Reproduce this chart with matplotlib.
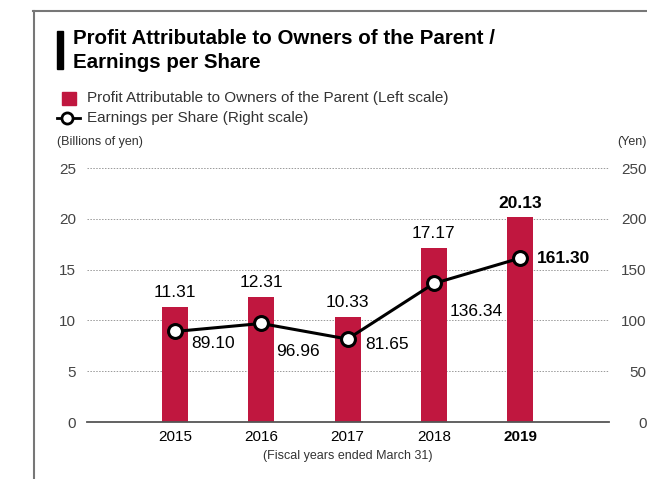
import matplotlib
matplotlib.use("Agg")
import matplotlib.pyplot as plt
from matplotlib.lines import Line2D
from matplotlib.patches import Rectangle

plt.rcParams['font.family'] = ['Liberation Sans', 'DejaVu Sans']

years = ["2015", "2016", "2017", "2018", "2019"]
profit = [11.31, 12.31, 10.33, 17.17, 20.13]   # billions of yen
eps = [89.10, 96.96, 81.65, 136.34, 161.30]    # yen
# label offsets for the EPS values, in points
eps_offsets = [(12, -9), (11, -20), (13, -4), (11, -20), (12, 0)]

RED = '#c0173f'
W, H = 647, 479

fig = plt.figure(figsize=(W / 100, H / 100), dpi=100)
ax = fig.add_axes([87 / W, 57 / H, 522 / W, 254 / H])
ax2 = ax.twinx()

x = list(range(len(years)))
ax.bar(x, profit, width=0.30, color=RED, zorder=2)
for i, v in enumerate(profit):
    last = i == len(profit) - 1
    ax.annotate(f"{v:.2f}", (i, v), xytext=(0, 5), textcoords='offset points',
                ha='center', va='bottom', fontsize=12.5,
                fontweight='bold' if last else 'normal')

ax2.plot(x, eps, color='black', lw=2.2, marker='o', ms=10, mfc='white',
         mec='black', mew=2.2, zorder=3)
for i, v in enumerate(eps):
    last = i == len(eps) - 1
    dx, dy = eps_offsets[i]
    ax2.annotate(f"{v:.2f}", (i, v), xytext=(dx, dy), textcoords='offset points',
                 ha='left', va='center', fontsize=12.5,
                 fontweight='bold' if last else 'normal')

ax.set_xlim(-1.02, 5.03)
ax.set_ylim(0, 25)
ax2.set_ylim(0, 250)
ax.set_yticks(range(0, 26, 5))
ax2.set_yticks(range(0, 251, 50))
ax.yaxis.grid(True, ls=(0, (1.5, 1.5)), color='#999999', lw=0.7)
ax.set_axisbelow(True)
ax.set_zorder(1)
ax2.set_zorder(2)

ax.set_xticks(x)
ax.set_xticklabels(years, fontsize=11)
ax.get_xticklabels()[-1].set_fontweight('bold')
ax.tick_params(axis='x', length=0, pad=6)
ax.tick_params(axis='y', length=0, pad=8, labelsize=11, labelcolor='#444444')
ax2.tick_params(axis='y', length=0, pad=27, labelsize=11, labelcolor='#444444')
for lab in ax2.get_yticklabels():
    lab.set_ha('right')

for a in (ax, ax2):
    for s in ('top', 'left', 'right', 'bottom'):
        a.spines[s].set_visible(False)
ax.spines['bottom'].set_visible(True)
ax.spines['bottom'].set_color('#555555')
ax.spines['bottom'].set_linewidth(1.3)

ax.set_xlabel("(Fiscal years ended March 31)", fontsize=9, color='#333333',
              labelpad=4)

# page frame
fig.add_artist(Line2D([33 / W, 1], [1 - 10.5 / H, 1 - 10.5 / H], color='#777777', lw=1.5))
fig.add_artist(Line2D([34 / W, 34 / W], [0, 1 - 10.5 / H], color='#777777', lw=1.5))

# title with its marker bar
fig.add_artist(Rectangle((57 / W, 1 - 69 / H), 6 / W, 38 / H, color='black',
                         transform=fig.transFigure))
fig.text(73 / W, 1 - 39 / H, "Profit Attributable to Owners of the Parent /",
         fontsize=14.8, fontweight='bold', va='center')
fig.text(73 / W, 1 - 62 / H, "Earnings per Share", fontsize=14.8,
         fontweight='bold', va='center')

# legend
fig.add_artist(Rectangle((62 / W, 1 - 105 / H), 14 / W, 13 / H, color=RED,
                         transform=fig.transFigure))
fig.text(87 / W, 1 - 98 / H, "Profit Attributable to Owners of the Parent (Left scale)",
         fontsize=11, color='#333333', va='center')
fig.add_artist(Line2D([57 / W, 80 / W], [1 - 118 / H, 1 - 118 / H], color='black',
                      lw=2))
fig.add_artist(Line2D([67 / W], [1 - 118 / H], color='black', marker='o', ms=8,
                      mfc='white', mew=2))
fig.text(87 / W, 1 - 118 / H, "Earnings per Share (Right scale)",
         fontsize=11, color='#333333', va='center')

fig.text(57 / W, 1 - 142 / H, "(Billions of yen)", fontsize=9, color='#333333',
         va='center')
fig.text(1.0, 1 - 142 / H, "(Yen)", fontsize=9, color='#333333', va='center',
         ha='right')

fig.savefig("out.png", dpi=100)
